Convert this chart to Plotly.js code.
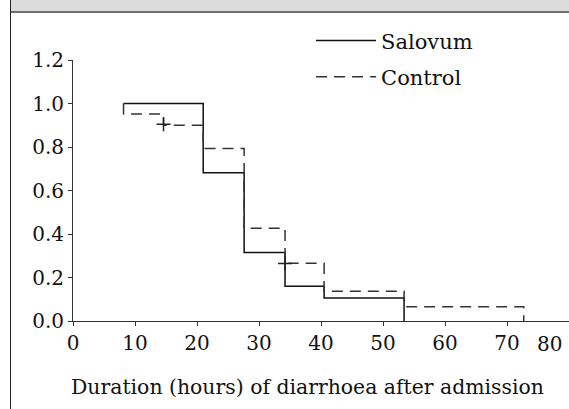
<!DOCTYPE html>
<html>
<head>
<meta charset="utf-8">
<script src="https://cdn.plot.ly/plotly-3.0.1.min.js"></script>
<style>
  html, body { margin: 0; padding: 0; background: #fff; }
  #wrap { position: relative; width: 569px; height: 409px; overflow: hidden; }
  #band { position: absolute; left: 10px; top: 0; width: 559px; height: 11px; background: #dcdcdc; border-bottom: 2px solid #6e6e6e; }
  #vline { position: absolute; left: 10px; top: 0; width: 1px; height: 409px; background: #222; }
  #chart { position: absolute; left: 0; top: 0; width: 569px; height: 409px; }
</style>
</head>
<body>
<div id="wrap">
  <div id="band"></div>
  <div id="vline"></div>
  <div id="chart"></div>
</div>
<script>
// Kaplan-Meier style step data
const salovumHours = [8.15, 21.0, 27.6, 34.2, 40.5, 53.4];
const salovumProp  = [1.0, 0.682, 0.315, 0.160, 0.106, 0.0];

const controlHours = [8.15, 8.15, 14.6, 21.0, 27.6, 34.2, 40.5, 53.4, 72.7];
const controlProp  = [1.0, 0.952, 0.900, 0.793, 0.426, 0.265, 0.137, 0.065, 0.0];

// censored observations (Control)
const censorHours = [14.6, 34.2];
const censorProp  = [0.905, 0.264];

const xTickVals = [0, 10, 20, 30, 40, 50, 60, 70];
const xTickText = ['0', '10', '20', '30', '40', '50', '60', '70'];
const xLastTick = [80];
const xLastText = ['80'];
const yTickVals = [0, 0.2, 0.4, 0.6, 0.8, 1.0, 1.2];
const xTitle = 'Duration (hours) of diarrhoea after admission';

const FONT = 'DejaVu Serif, serif';

const traces = [
  {
    x: salovumHours, y: salovumProp, type: 'scatter', mode: 'lines',
    line: { shape: 'hv', color: '#111', width: 1.5 },
    name: 'Salovum', legendgroup: 'a'
  },
  {
    x: controlHours, y: controlProp, type: 'scatter', mode: 'lines',
    line: { shape: 'hv', color: '#333', width: 1.5, dash: '11px,7px' },
    name: 'Control', legendgroup: 'b'
  },
  {
    x: censorHours, y: censorProp, type: 'scatter', mode: 'markers',
    xaxis: 'x2',
    marker: { symbol: 'cross-thin', size: 10, line: { width: 1.5, color: '#222' } },
    showlegend: false, hoverinfo: 'skip'
  }
];

const layout = {
  width: 569, height: 409,
  margin: { l: 73, r: 0, t: 60, b: 88 },
  paper_bgcolor: 'rgba(0,0,0,0)',
  plot_bgcolor: 'rgba(0,0,0,0)',
  font: { family: FONT, size: 20, color: '#111' },
  showlegend: true,
  legend: {
    x: 0.48, y: 1.152, xanchor: 'left', yanchor: 'top',
    bgcolor: 'rgba(0,0,0,0)', borderwidth: 0,
    font: { family: FONT, size: 21, color: '#111' },
    tracegroupgap: 6, itemwidth: 60
  },
  xaxis: {
    range: [0, 80], tickvals: xTickVals, ticktext: xTickText,
    showline: true, linecolor: '#333', linewidth: 1,
    ticks: 'outside', ticklen: 4, tickcolor: '#333', tickwidth: 1,
    showgrid: false, zeroline: false,
    tickfont: { family: FONT, size: 20, color: '#111' }
  },
  xaxis2: {
    overlaying: 'x', anchor: 'y', side: 'bottom',
    range: [0, 80], tickvals: xLastTick, ticktext: xLastText,
    ticklabelposition: 'outside left', ticklabelshift: -6, ticklabelstandoff: 5,
    showline: false, ticks: 'outside', ticklen: 4, tickwidth: 1,
    tickcolor: 'rgba(0,0,0,0)', showgrid: false, zeroline: false,
    tickfont: { family: FONT, size: 20, color: '#111' }
  },
  yaxis: {
    range: [0, 1.2], tickvals: yTickVals, tickformat: '.1f',
    showline: true, linecolor: '#333', linewidth: 1,
    ticks: 'outside', ticklen: 4, tickcolor: '#333', tickwidth: 1,
    showgrid: false, zeroline: false,
    tickfont: { family: FONT, size: 20, color: '#111' }
  },
  annotations: [{
    text: xTitle, xref: 'paper', yref: 'paper',
    x: 0.4728, y: -0.253, xanchor: 'center', yanchor: 'middle',
    showarrow: false, font: { family: FONT, size: 20.4, color: '#111' }
  }]
};

Plotly.newPlot('chart', traces, layout, { staticPlot: true, displayModeBar: false });
</script>
</body>
</html>
